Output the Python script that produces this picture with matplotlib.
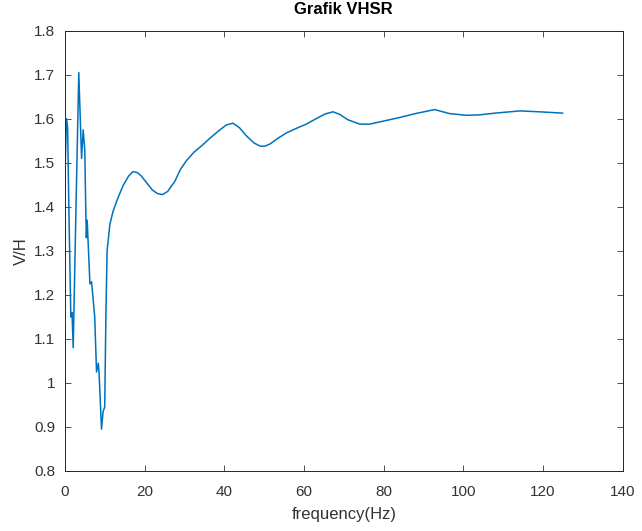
import matplotlib
matplotlib.use('Agg')
import matplotlib.pyplot as plt

# frequency (Hz) and V/H ratio
freq = [0, 0.4, 0.7, 1.0, 1.5, 1.8, 2.1, 2.8, 3.5, 3.8, 4.2, 4.6, 5.0, 5.3, 5.4, 5.6,
        6.3, 6.7, 7.5, 7.95, 8.4, 8.6, 9.2, 9.6, 10.0, 10.3, 10.6, 11.3, 12.1, 13.3,
        14.6, 16.0, 17.1, 18.2, 19.2, 20.5, 22.0, 23.3, 24.5, 25.8, 27.6, 29.0, 30.5,
        32.5, 34.5, 36.4, 38.5, 40.5, 42.2, 43.8, 45.6, 47.5, 49.0, 50.2, 51.5, 53.5,
        55.6, 58.0, 60.6, 63.0, 65.3, 67.3, 69.0, 71.0, 74.0, 76.5, 79.0, 84.0, 88.0,
        92.8, 96.5, 100.8, 104.0, 108.0, 114.2, 119.0, 124.9]
vh = [1.46, 1.60, 1.58, 1.40, 1.15, 1.16, 1.08, 1.40, 1.705, 1.62, 1.51, 1.575, 1.53,
      1.37, 1.33, 1.37, 1.225, 1.23, 1.15, 1.025, 1.045, 1.02, 0.895, 0.935, 0.945,
      1.15, 1.30, 1.36, 1.39, 1.42, 1.448, 1.47, 1.48, 1.478, 1.47, 1.455, 1.438,
      1.43, 1.428, 1.435, 1.458, 1.485, 1.505, 1.525, 1.54, 1.556, 1.572, 1.586,
      1.590, 1.580, 1.561, 1.545, 1.538, 1.538, 1.543, 1.556, 1.568, 1.578, 1.588,
      1.600, 1.611, 1.616, 1.610, 1.598, 1.588, 1.588, 1.593, 1.603, 1.612, 1.621,
      1.612, 1.608, 1.609, 1.613, 1.618, 1.616, 1.613]

plt.rcParams['font.family'] = ['Liberation Sans', 'DejaVu Sans']

fig = plt.figure(figsize=(6.42, 5.31), dpi=100)
ax = fig.add_axes([0.101, 0.113, 0.869, 0.829])
ax.plot(freq, vh, color='#0072BD', lw=1.1)

ax.set_xlim(0, 140)
ax.set_ylim(0.8, 1.8)
ax.set_xticks(range(0, 141, 20))
ax.set_yticks([0.8, 0.9, 1.0, 1.1, 1.2, 1.3, 1.4, 1.5, 1.6, 1.7, 1.8])
ax.set_yticklabels(['0.8', '0.9', '1', '1.1', '1.2', '1.3', '1.4', '1.5', '1.6', '1.7', '1.8'])
ax.tick_params(direction='in', top=True, right=True, length=4, width=0.6,
               colors='#333333', labelsize=11)
ax.tick_params(axis='x', pad=10)
ax.tick_params(axis='y', pad=7)
for s in ax.spines.values():
    s.set_color('#262626')
    s.set_linewidth(0.7)

ax.set_xlabel('frequency(Hz)', fontsize=12, color='#333333', labelpad=6)
ax.set_ylabel('V/H', fontsize=12, color='#333333', labelpad=4)
ax.set_title('Grafik VHSR', fontsize=12, fontweight='bold', pad=12)

plt.savefig('out.png', dpi=100)
